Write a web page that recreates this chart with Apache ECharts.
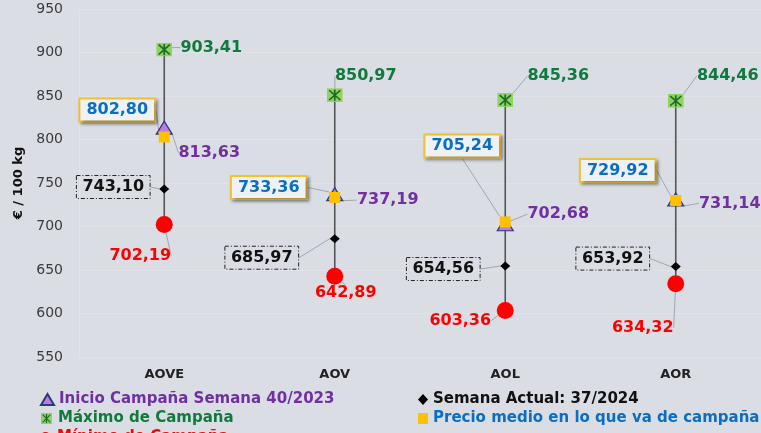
<!DOCTYPE html>
<html>
<head>
<meta charset="utf-8">
<title>Precios aceite de oliva</title>
<style>
  html, body { margin: 0; padding: 0; background: #dadde4; }
  #main { width: 761px; height: 433px; }
</style>
</head>
<body>
<div id="main"></div>
<script src="https://cdn.jsdelivr.net/npm/echarts@6/dist/echarts.min.js"></script>
<script type="text/javascript">
// datos (€/100 kg)
var categorias = ['AOVE', 'AOV', 'AOL', 'AOR'];
var inicio = [813.63, 737.19, 702.68, 731.14];
var maximo = [903.41, 850.97, 845.36, 844.46];
var minimo = [702.19, 642.89, 603.36, 634.32];
var actual = [743.10, 685.97, 654.56, 653.92];
var medio  = [802.80, 733.36, 705.24, 729.92];
var yMin = 550, yMax = 950, yPaso = 50;

// desplazamiento de las etiquetas en px (solo posicion)
var offInicio = [[45, 25], [53, 6], [53, -10], [54, 4]];
var offMaximo = [[47, -2], [31, -19], [53, -24], [52, -25]];
var offMinimo = [[-24, 31], [11, 17], [-45, 10], [-33, 44]];
var offActual = [[-51, -2], [-73, 19], [-62, 3], [-63, -8]];
var offMedio  = [[-47, -27], [-66, -10], [-43, -76], [-58, -30]];

var fuente = 'DejaVu Sans';
var myChart = echarts.init(document.getElementById('main'));

function fmt(v) {
  return v.toFixed(2).replace('.', ',');
}
function mover(offs) {
  return function (p) {
    return { dx: offs[p.dataIndex][0], dy: offs[p.dataIndex][1] };
  };
}

var svgMax = "<svg xmlns='http://www.w3.org/2000/svg' width='20' height='20'>" +
  "<rect width='20' height='20' fill='#8fd460'/>" +
  "<path d='M10 2V18M3 3L17 17M17 3L3 17' stroke='#1c6b2a' stroke-width='2.2'/></svg>";
var simboloMax = 'image://data:image/svg+xml;charset=utf-8,' + encodeURIComponent(svgMax);

var lineaGuia = { show: true, length2: 0, lineStyle: { color: '#a3a6ad', width: 1 } };

function etiqueta(color, extra) {
  var e = {
    show: true,
    position: 'inside',
    formatter: function (p) { return fmt(p.value); },
    color: color,
    fontFamily: fuente,
    fontWeight: 'bold',
    fontSize: 16
  };
  for (var k in extra) e[k] = extra[k];
  return e;
}

// una leyenda por entrada, en dos columnas
function leyenda(nombre, color, x, y, w) {
  return {
    left: x, top: y, height: 30, padding: 0,
    itemWidth: w, itemHeight: 11, selectedMode: false,
    textStyle: { fontFamily: fuente, fontWeight: 'bold', fontSize: 15, color: color },
    data: [nombre]
  };
}

var option = {
  backgroundColor: '#dadde4',
  animation: false,
  grid: { left: 79, right: -6, top: 9, bottom: 76 },
  legend: [
    leyenda('Inicio Campaña Semana 40/2023', '#7030a0', 40, 392, 13),
    leyenda('Máximo de Campaña', '#107a3c', 40, 411, 13),
    leyenda('Mínimo de Campaña', '#ff0000', 40, 430, 13),
    leyenda('Semana Actual: 37/2024', '#111111', 418, 392, 10),
    leyenda('Precio medio en lo que va de campaña', '#0a6fc2', 418, 411, 10)
  ],
  xAxis: {
    type: 'category',
    data: categorias,
    axisLine: { show: false },
    axisTick: { show: false },
    axisLabel: { fontFamily: fuente, fontWeight: 'bold', fontSize: 13, color: '#222', margin: 11 }
  },
  yAxis: {
    type: 'value',
    min: yMin, max: yMax, interval: yPaso,
    name: '€ / 100 kg',
    nameLocation: 'middle',
    nameGap: 52,
    nameTextStyle: { fontFamily: fuente, fontWeight: 'bold', fontSize: 13, color: '#111' },
    axisLine: { show: true, lineStyle: { color: '#e1e3e9' } },
    axisTick: { show: false },
    axisLabel: { fontFamily: fuente, fontSize: 14, color: '#3a3a3a', margin: 16 },
    splitLine: { lineStyle: { color: '#e1e3e9', width: 1 } }
  },
  series: [{
    type: 'custom',
    silent: true,
    z: 1,
    data: categorias.map(function (c, i) { return [i, minimo[i], maximo[i]]; }),
    encode: { x: 0, y: [1, 2] },
    renderItem: function (params, api) {
      var a = api.coord([api.value(0), api.value(1)]);
      var b = api.coord([api.value(0), api.value(2)]);
      return {
        type: 'line',
        shape: { x1: a[0], y1: a[1], x2: b[0], y2: b[1] },
        style: { stroke: '#555555', lineWidth: 1.6 }
      };
    }
  }, {
    name: 'Inicio Campaña Semana 40/2023',
    type: 'scatter',
    z: 3,
    data: inicio,
    symbol: 'triangle',
    symbolSize: [16, 13],
    itemStyle: { color: '#c07ae8', borderColor: '#2b3a7a', borderWidth: 1.2, opacity: 1 },
    label: etiqueta('#7030a0', {}),
    labelLine: lineaGuia,
    labelLayout: mover(offInicio)
  }, {
    name: 'Máximo de Campaña',
    type: 'scatter',
    z: 3,
    data: maximo,
    symbol: simboloMax,
    symbolSize: [16, 14],
    itemStyle: { color: '#8fd460', opacity: 1 },
    label: etiqueta('#107a3c', {}),
    labelLine: lineaGuia,
    labelLayout: mover(offMaximo)
  }, {
    name: 'Mínimo de Campaña',
    type: 'scatter',
    z: 3,
    data: minimo,
    symbol: 'circle',
    symbolSize: 17,
    itemStyle: { color: '#ff0000', opacity: 1 },
    label: etiqueta('#ff0000', {}),
    labelLine: lineaGuia,
    labelLayout: mover(offMinimo)
  }, {
    name: 'Semana Actual: 37/2024',
    type: 'scatter',
    z: 3,
    data: actual,
    symbol: 'diamond',
    symbolSize: [10, 9],
    itemStyle: { color: '#000000', opacity: 1 },
    label: etiqueta('#111111', {
      padding: [4, 6, 3, 6],
      borderColor: '#222',
      borderWidth: 1,
      borderType: [4, 2, 1, 2]
    }),
    labelLine: lineaGuia,
    labelLayout: mover(offActual)
  }, {
    name: 'Precio medio en lo que va de campaña',
    type: 'scatter',
    z: 3,
    data: medio,
    symbol: 'rect',
    symbolSize: 11,
    itemStyle: { color: '#ffc000', opacity: 1 },
    label: etiqueta('#0a6fc2', {
      padding: [3, 6, 2, 6],
      backgroundColor: '#eef1f5',
      borderColor: '#f2c233',
      borderWidth: 2,
      shadowColor: 'rgba(0,0,0,0.35)',
      shadowBlur: 3,
      shadowOffsetX: 2,
      shadowOffsetY: 2
    }),
    labelLine: lineaGuia,
    labelLayout: mover(offMedio)
  }]
};

myChart.setOption(option);
</script>
</body>
</html>
